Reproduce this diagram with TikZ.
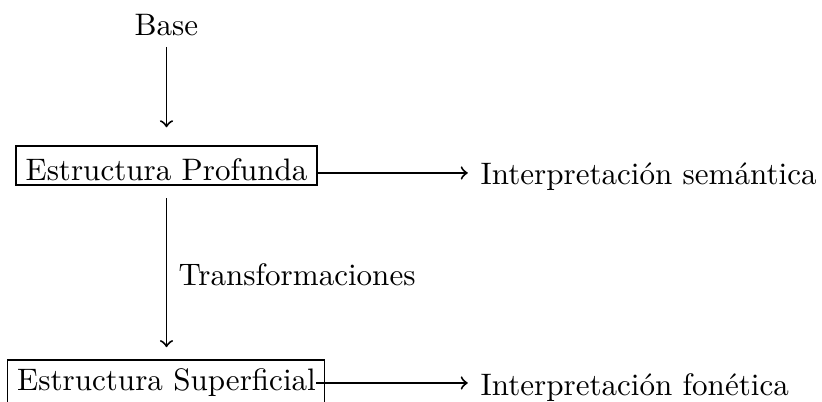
\documentclass[tikz,border=0pt]{standalone}
\usetikzlibrary{calc}
\begin{document}
\begin{tikzpicture}[x=0.3268pt,y=-0.3268pt,
  font=\fontsize{10.15pt}{12pt}\selectfont,
  txt/.style={inner sep=0pt},
  arr/.style={->,line width=0.65pt}]
\useasboundingbox (0,0) rectangle (822,401);
\node[txt,anchor=base] (base) at (166.5,35) {Base};
\node[draw,line width=0.45pt,anchor=base,inner xsep=3.1pt,inner ysep=0pt,text height=11.1pt,text depth=1.6pt] (ep) at (166.5,180) {Estructura Profunda};
\node[txt,anchor=base west] (is) at (480,184) {Interpretación semántica};
\node[txt,anchor=base west] (tr) at (178,285) {Transformaciones};
\node[txt,anchor=base] (es) at (166.5,390) {Estructura Superficial};
\node[txt,anchor=base west] (if) at (480,395) {Interpretación fonética};
\draw[line width=0.45pt] ($(es.base west)+(-9,-30)$) rectangle ($(es.base east)+(8,25)$);
\draw[arr] ([yshift=-3.9pt]base.base) -- ([yshift=5.9pt]ep.north);
\draw[arr] ([yshift=2.3pt]ep.base east) -- ([yshift=2.3pt,xshift=-4pt]ep.base east -| is.west);
\draw[arr] ([yshift=-4.2pt]ep.south) -- ([yshift=14pt]es.base);
\draw[arr] ([yshift=2.3pt]es.base east) -- ([yshift=2.3pt,xshift=-4pt]es.base east -| if.west);
\end{tikzpicture}
\end{document}
